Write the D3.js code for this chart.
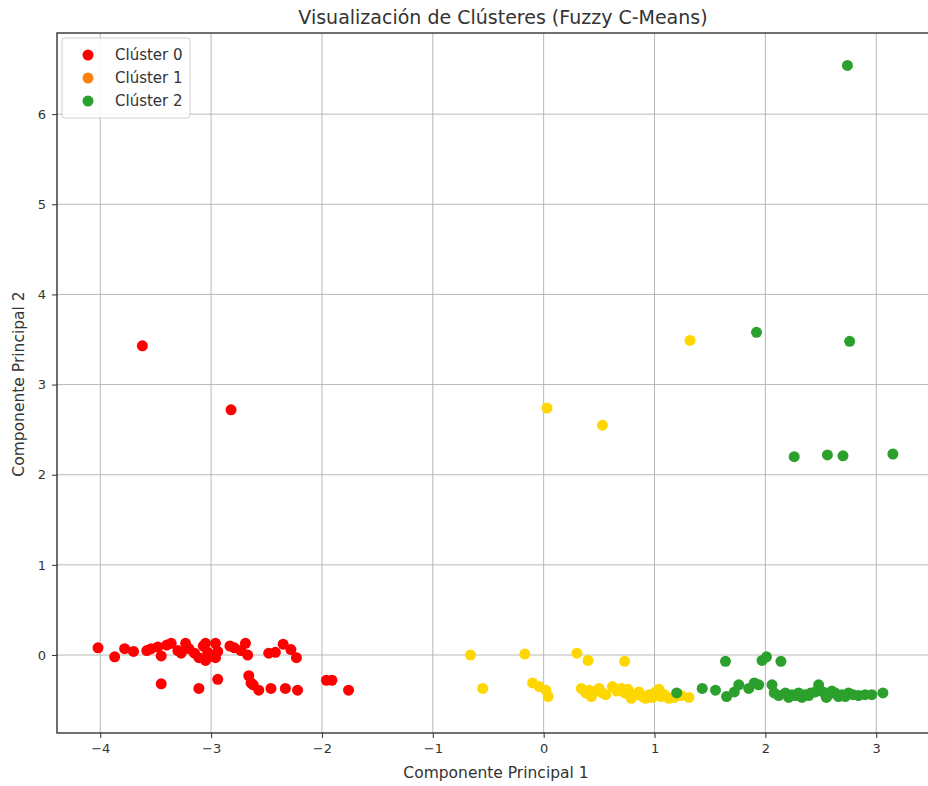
<!DOCTYPE html>
<html>
<head>
<meta charset="utf-8">
<script src="https://cdn.jsdelivr.net/npm/d3@7"></script>
<style>
  html, body { margin: 0; padding: 0; background: #fff; overflow: hidden; }
  svg { display: block; font-family: "DejaVu Sans", sans-serif; }
</style>
</head>
<body>
<svg id="chart" width="928" height="786"></svg>
<script>
// Cluster 0 points [PC1, PC2]
const cluster0 = [
  [-4.02, 0.08], [-3.87, -0.02], [-3.78, 0.07], [-3.70, 0.04], [-3.58, 0.05],
  [-3.54, 0.07], [-3.48, 0.09], [-3.45, -0.01], [-3.40, 0.11], [-3.36, 0.13],
  [-3.30, 0.05], [-3.27, 0.02], [-3.23, 0.13], [-3.20, 0.07], [-3.15, 0.02],
  [-3.11, -0.03], [-3.07, 0.10], [-3.05, 0.13], [-3.03, 0.03], [-3.05, -0.06],
  [-3.00, -0.01], [-2.96, 0.13], [-2.94, 0.04], [-2.96, -0.03], [-2.83, 0.10],
  [-2.79, 0.08], [-2.73, 0.05], [-2.69, 0.13], [-2.67, 0.00], [-2.48, 0.02],
  [-2.42, 0.03], [-2.35, 0.12], [-2.28, 0.06], [-2.23, -0.03],
  [-3.45, -0.32], [-3.11, -0.37], [-2.94, -0.27], [-2.66, -0.23], [-2.64, -0.31],
  [-2.62, -0.33], [-2.57, -0.39], [-2.46, -0.37], [-2.33, -0.37], [-2.22, -0.39],
  [-1.96, -0.28], [-1.91, -0.28], [-1.76, -0.39],
  [-3.62, 3.43], [-2.82, 2.72]
];

// Cluster 1 points [PC1, PC2]
const cluster1 = [
  [1.32, 3.49], [0.03, 2.74], [0.53, 2.55],
  [-0.66, 0.00], [-0.17, 0.01], [0.30, 0.02], [0.40, -0.06], [0.73, -0.07],
  [-0.55, -0.37], [-0.10, -0.31], [-0.04, -0.35], [0.02, -0.39], [0.04, -0.46],
  [0.34, -0.37], [0.41, -0.39], [0.43, -0.46], [0.50, -0.37], [0.56, -0.44],
  [0.62, -0.35], [0.70, -0.37], [0.73, -0.42], [0.79, -0.48], [0.83, -0.44],
  [0.89, -0.46], [0.95, -0.44], [1.01, -0.41], [1.06, -0.46], [1.13, -0.48],
  [0.38, -0.42], [0.47, -0.40], [0.53, -0.42], [0.66, -0.40], [0.76, -0.38],
  [0.86, -0.41], [0.92, -0.48], [0.98, -0.47], [1.04, -0.38], [1.09, -0.44],
  [1.18, -0.47], [1.24, -0.45], [1.31, -0.47]
];

// Cluster 2 points [PC1, PC2]
const cluster2 = [
  [2.74, 6.54], [1.92, 3.58], [2.76, 3.48],
  [2.26, 2.20], [2.56, 2.22], [2.70, 2.21], [3.15, 2.23],
  [1.20, -0.42], [1.43, -0.37], [1.55, -0.39], [1.64, -0.07], [1.65, -0.46],
  [1.72, -0.41], [1.76, -0.33], [1.85, -0.37], [1.90, -0.31], [1.94, -0.33],
  [1.97, -0.06], [2.01, -0.02], [2.06, -0.33], [2.08, -0.42], [2.14, -0.07],
  [2.18, -0.42], [2.24, -0.44], [2.30, -0.42], [2.36, -0.44], [2.41, -0.42],
  [2.48, -0.33], [2.52, -0.41], [2.57, -0.44], [2.63, -0.42], [2.69, -0.44],
  [2.75, -0.42], [2.79, -0.44], [2.90, -0.44], [2.96, -0.44], [3.06, -0.42],
  [2.12, -0.45], [2.21, -0.47], [2.27, -0.45], [2.33, -0.47], [2.39, -0.45],
  [2.45, -0.41], [2.55, -0.47], [2.60, -0.40], [2.66, -0.46], [2.72, -0.46],
  [2.84, -0.45]
];

const xTicks = [-4, -3, -2, -1, 0, 1, 2, 3];
const yTicks = [0, 1, 2, 3, 4, 5, 6];

const clusterNames = ["Clúster 0", "Clúster 1", "Clúster 2"];
const pointColors = ["#ff0000", "#ffd700", "#2ca02c"];
const legendColors = ["#ff0000", "#ff7f0e", "#2ca02c"];

const svg = d3.select("#chart");

const plot = { left: 57, top: 33, right: 935, bottom: 733 };

const x = d3.scaleLinear().domain([-4.39, 3.53]).range([plot.left, plot.right]);
const y = d3.scaleLinear().domain([-0.865, 6.90]).range([plot.bottom, plot.top]);

// Grid
const grid = svg.append("g");
grid.selectAll("line.gx").data(xTicks).join("line")
  .attr("x1", d => x(d)).attr("x2", d => x(d))
  .attr("y1", plot.top).attr("y2", plot.bottom)
  .attr("stroke", "#b0b0b0").attr("stroke-width", 0.9);
grid.selectAll("line.gy").data(yTicks).join("line")
  .attr("y1", d => y(d)).attr("y2", d => y(d))
  .attr("x1", plot.left).attr("x2", plot.right)
  .attr("stroke", "#b0b0b0").attr("stroke-width", 0.9);

// Points
const layers = [cluster0, cluster1, cluster2];
layers.forEach((pts, i) => {
  svg.append("g").selectAll("circle").data(pts).join("circle")
    .attr("cx", d => x(d[0]))
    .attr("cy", d => y(d[1]))
    .attr("r", 5.5)
    .attr("fill", pointColors[i]);
});

// Axes
const xAxis = d3.axisBottom(x).tickValues(xTicks).tickSize(5).tickPadding(6)
  .tickFormat(d => d < 0 ? "\u2212" + Math.abs(d) : d);
const yAxis = d3.axisLeft(y).tickValues(yTicks).tickSize(5).tickPadding(6);

const gx = svg.append("g").attr("transform", `translate(0,${plot.bottom})`).call(xAxis);
const gy = svg.append("g").attr("transform", `translate(${plot.left},0)`).call(yAxis);
[gx, gy].forEach(g => {
  g.select(".domain").remove();
  g.selectAll(".tick line").attr("stroke", "#333").attr("stroke-width", 1);
  g.selectAll(".tick text").attr("fill", "#333").style("font-size", "13px")
    .style("font-family", "'DejaVu Sans', sans-serif");
});

// Frame
svg.append("rect")
  .attr("x", plot.left).attr("y", plot.top)
  .attr("width", plot.right - plot.left).attr("height", plot.bottom - plot.top)
  .attr("fill", "none").attr("stroke", "#333").attr("stroke-width", 1.4);

// Title and labels
svg.append("text")
  .attr("x", 503).attr("y", 24)
  .attr("text-anchor", "middle")
  .attr("fill", "#333")
  .style("font-size", "19px")
  .text("Visualización de Clústeres (Fuzzy C-Means)");

svg.append("text")
  .attr("x", 496).attr("y", 778)
  .attr("text-anchor", "middle")
  .attr("fill", "#333")
  .style("font-size", "15.5px")
  .text("Componente Principal 1");

svg.append("text")
  .attr("transform", `translate(24,384) rotate(-90)`)
  .attr("text-anchor", "middle")
  .attr("fill", "#333")
  .style("font-size", "15.5px")
  .text("Componente Principal 2");

// Legend
const legend = svg.append("g").attr("transform", "translate(62,38)");
legend.append("rect")
  .attr("width", 128).attr("height", 80).attr("rx", 3)
  .attr("fill", "#fff").attr("fill-opacity", 0.85)
  .attr("stroke", "#d0d0d0").attr("stroke-width", 1);
clusterNames.forEach((name, i) => {
  const row = legend.append("g").attr("transform", `translate(0,${17 + i * 23})`);
  row.append("circle").attr("cx", 26).attr("cy", 0).attr("r", 5.5).attr("fill", legendColors[i]);
  row.append("text").attr("x", 53).attr("y", 0).attr("dy", "0.35em")
    .attr("fill", "#333").style("font-size", "15px").text(name);
});
</script>
</body>
</html>
